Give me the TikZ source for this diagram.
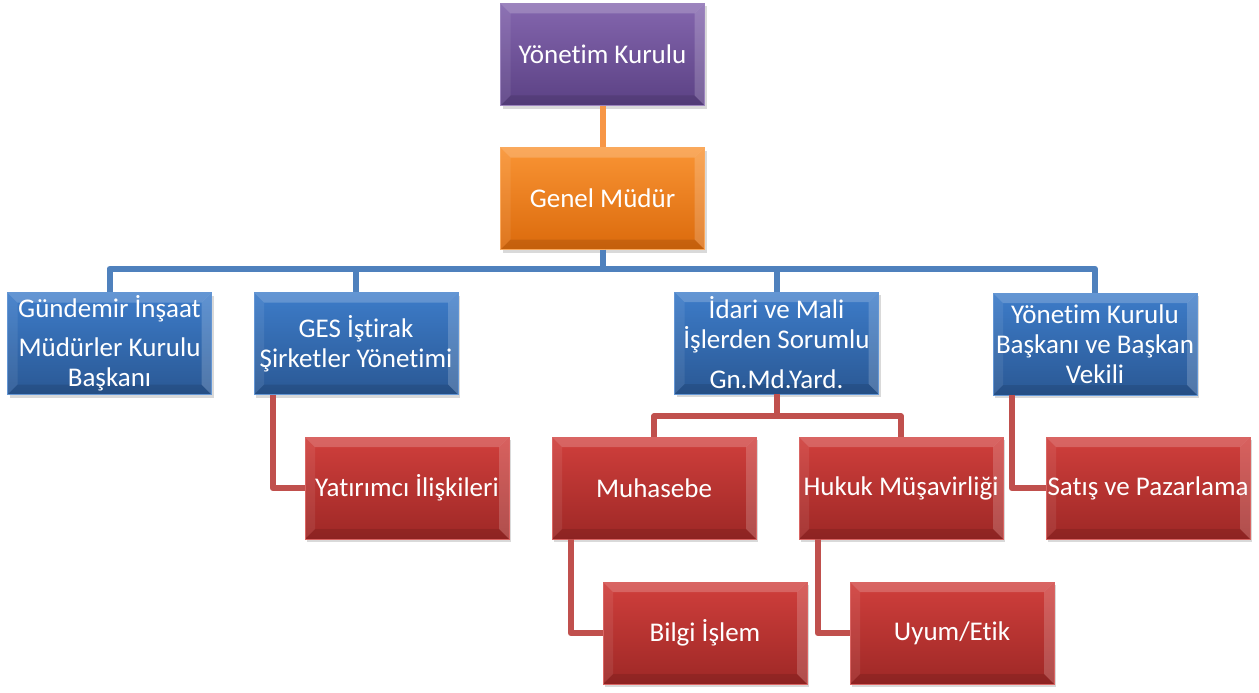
\documentclass[tikz,border=0pt]{standalone}
\usepackage{fontspec}
\setmainfont{Carlito}[Ligatures=NoCommon]
\usetikzlibrary{shadows}

\definecolor{purpletop}{HTML}{8466AE}
\definecolor{purplebot}{HTML}{5B4184}
\definecolor{orangetop}{HTML}{F99434}
\definecolor{orangebot}{HTML}{DB6A0C}
\definecolor{bluetop}{HTML}{3D7CC9}
\definecolor{bluebot}{HTML}{2A5894}
\definecolor{redtop}{HTML}{D03F3C}
\definecolor{redbot}{HTML}{9E2826}
\definecolor{orangeln}{HTML}{F79646}
\definecolor{blueln}{HTML}{4F81BD}
\definecolor{redln}{HTML}{C0504D}

\begin{document}
\begin{tikzpicture}[x=1pt,y=-1pt]
				\tikzstyle{box}=[text=white,minimum width=204pt,minimum height=102pt,inner sep=0pt,
				align=center,font=\fontsize{27}{30}\selectfont,line width=0.8pt,
				drop shadow={opacity=.3,shadow xshift=2pt,shadow yshift=-3pt},
				path picture={
					\fill[white,opacity=.2] (path picture bounding box.north west) -- (path picture bounding box.north east)
						-- ([shift={(-10pt,-10pt)}]path picture bounding box.north east) -- ([shift={(10pt,-10pt)}]path picture bounding box.north west) -- cycle;
					\fill[white,opacity=.08] (path picture bounding box.north west) -- ([shift={(10pt,-10pt)}]path picture bounding box.north west)
						-- ([shift={(10pt,10pt)}]path picture bounding box.south west) -- (path picture bounding box.south west) -- cycle;
					\fill[white,opacity=.18] (path picture bounding box.north east) -- ([shift={(-10pt,-10pt)}]path picture bounding box.north east)
						-- ([shift={(-10pt,10pt)}]path picture bounding box.south east) -- (path picture bounding box.south east) -- cycle;
					\fill[black,opacity=.1] (path picture bounding box.south west) -- ([shift={(10pt,10pt)}]path picture bounding box.south west)
						-- ([shift={(-10pt,10pt)}]path picture bounding box.south east) -- (path picture bounding box.south east) -- cycle;
				}]
				\tikzstyle{purplebox}=[box,top color=purpletop,bottom color=purplebot,draw=purpletop!80!white]
				\tikzstyle{orangebox}=[box,top color=orangetop,bottom color=orangebot,draw=orangetop!80!white]
				\tikzstyle{bluebox}=[box,top color=bluetop,bottom color=bluebot,draw=bluetop!80!white]
				\tikzstyle{redbox}=[box,top color=redtop,bottom color=redbot,draw=redtop!80!white]
				\tikzstyle{orangeline}=[line width=6pt,orangeln]
				\tikzstyle{blueline}=[line width=6pt,blueln,line join=round]
				\tikzstyle{redline}=[line width=6pt,redln,line join=round]
				\useasboundingbox (0,0) rectangle (1259,693);
				% top of the chart
				\node[purplebox] (yk) at (602.5,54.5) {Yönetim Kurulu};
				\node[orangebox] (gm) at (602.5,198.5) {Genel Müdür};
				% second level
				\node[bluebox] (gund) at (109.5,343.5) {Gündemir İnşaat\\[9pt]Müdürler Kurulu\\Başkanı};
				\node[bluebox] (ges) at (356,343.5) {GES İştirak\\Şirketler Yönetimi};
				\node[bluebox] (idari) at (776.5,343) {İdari ve Mali\\İşlerden Sorumlu\\[10pt]Gn.Md.Yard.};
				\node[bluebox] (ykb) at (1095,344) {Yönetim Kurulu\\Başkanı ve Başkan\\Vekili};
				% third level
				\node[redbox] (yat) at (407,488) {Yatırımcı İlişkileri};
				\node[redbox] (muh) at (654,488) {Muhasebe};
				\node[redbox] (huk) at (901,488) {Hukuk Müşavirliği};
				\node[redbox] (sat) at (1148,488) {Satış ve Pazarlama};
				\node[redbox] (bilgi) at (705,633) {Bilgi İşlem};
				\node[redbox] (uyum) at (952,633) {Uyum/Etik};
				% connectors
				\draw[orangeline] (yk.south) -- (gm.north);
				\foreach \n in {gund,ges,idari,ykb}
					\draw[blueline] (gm.south) -- ++(0,19) -| (\n.north);
				\foreach \n in {muh,huk}
					\draw[redline] (idari.south) -- ++(0,22) -| (\n.north);
				\draw[redline] ([xshift=19pt]ges.south west) |- (yat.west);
				\draw[redline] ([xshift=19pt]ykb.south west) |- (sat.west);
				\draw[redline] ([xshift=19pt]muh.south west) |- (bilgi.west);
				\draw[redline] ([xshift=19pt]huk.south west) |- (uyum.west);
\end{tikzpicture}
\end{document}
